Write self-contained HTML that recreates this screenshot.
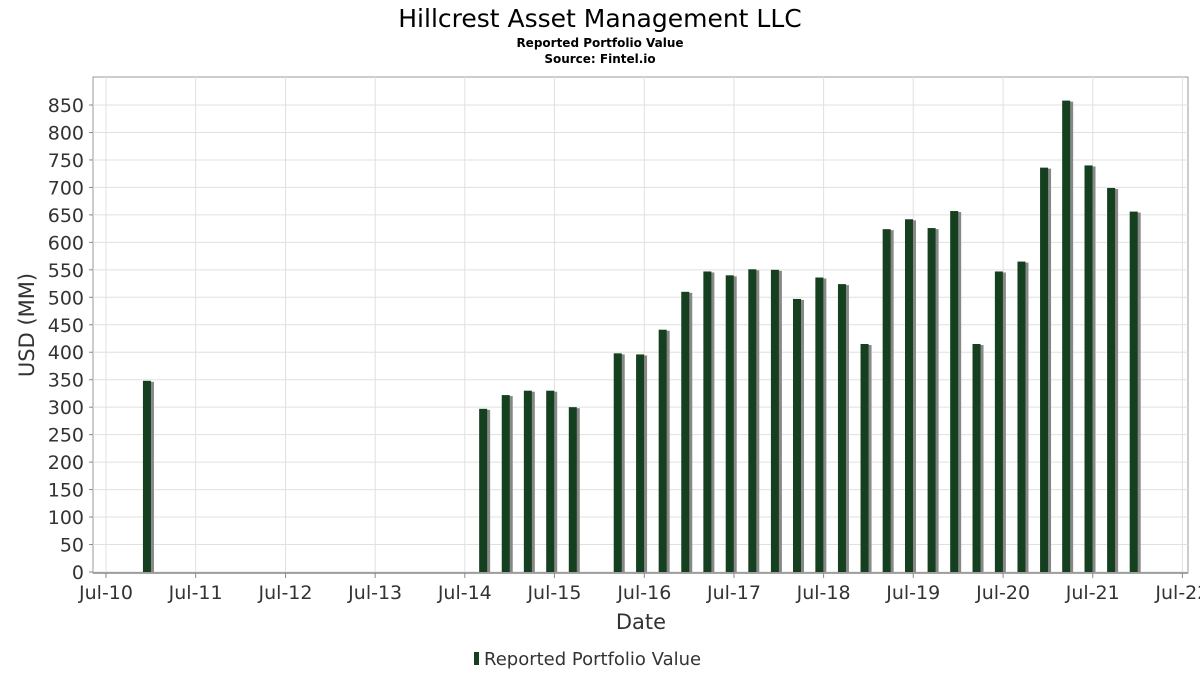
<!DOCTYPE html>
<html><head><meta charset="utf-8"><style>
body{margin:0;background:#fff;font-family:"DejaVu Sans","Liberation Sans",sans-serif;}
</style></head><body>
<svg id="c" width="1200" height="675" xmlns="http://www.w3.org/2000/svg">
<text x="600" y="27" text-anchor="middle" font-size="25" fill="#000">Hillcrest Asset Management LLC</text>
<text x="600" y="47" text-anchor="middle" font-size="12" font-weight="bold">Reported Portfolio Value</text>
<text x="600" y="63" text-anchor="middle" font-size="12" font-weight="bold">Source: Fintel.io</text>
<rect x="93" y="77" width="1095" height="496" fill="#fff" stroke="#999"/>
<g id="grid"></g><g id="bars"></g><g id="axes"></g>
<text x="641" y="629" text-anchor="middle" font-size="21" fill="#333">Date</text>
<text transform="translate(34,325) rotate(-90)" text-anchor="middle" font-size="21" fill="#333">USD (MM)</text>
<g>
<rect x="474" y="652" width="5" height="13" fill="#15401f"/>
<text x="484" y="665" font-size="18" fill="#333">Reported Portfolio Value</text>
</g>
</svg>
<script>
const dates=["2010-12-31","2014-09-30","2014-12-31","2015-03-31","2015-06-30","2015-09-30","2016-03-31","2016-06-30","2016-09-30","2016-12-31","2017-03-31","2017-06-30","2017-09-30","2017-12-31","2018-03-31","2018-06-30","2018-09-30","2018-12-31","2019-03-31","2019-06-30","2019-09-30","2019-12-31","2020-03-31","2020-06-30","2020-09-30","2020-12-31","2021-03-31","2021-06-30","2021-09-30","2021-12-31"];
const values=[348,297,322,330,330,300,398,396,441,510,547,540,551,550,497,536,524,415,624,642,626,657,415,547,565,736,858,740,699,656];
const yTicks=[0,50,100,150,200,250,300,350,400,450,500,550,600,650,700,750,800,850];
const xTickLabels=["Jul-10","Jul-11","Jul-12","Jul-13","Jul-14","Jul-15","Jul-16","Jul-17","Jul-18","Jul-19","Jul-20","Jul-21","Jul-22"];
const NS="http://www.w3.org/2000/svg";
const t0=Date.UTC(2010,6,1), yr=365.25*864e5;
function x(d){return 106+(d-t0)/yr*89.7;}
function y(v){return 572-v*(467/850);}
function mk(tag,attrs,parent){const e=document.createElementNS(NS,tag);for(const k in attrs)e.setAttribute(k,attrs[k]);document.getElementById(parent).appendChild(e);return e;}
yTicks.forEach(v=>{
 const l=mk('line',{x1:93,x2:1188,y1:y(v),y2:y(v),stroke:'#e0e0e0'},'grid');
 
 
 const t=mk('text',{x:84,y:y(v)+7,'text-anchor':'end','font-size':19,fill:'#333'},'axes');
 t.textContent=v;
 
 
 mk('line',{x1:89,x2:93,y1:y(v),y2:y(v),stroke:'#888'},'axes');
});
xTickLabels.forEach((s,i)=>{
 const xx=x(Date.UTC(2010+i,6,1));
 const l=mk('line',{x1:xx,x2:xx,y1:77,y2:573,stroke:'#e0e0e0'},'grid');
 
 
 mk('line',{x1:xx,x2:xx,y1:573,y2:578,stroke:'#888'},'axes');
 const t=mk('text',{x:xx,y:599,'text-anchor':'middle','font-size':19,fill:'#333'},'axes');
 t.textContent=s;
 
 
});
const ax=mk('line',{x1:93,x2:1188,y1:573,y2:573,stroke:'#888','stroke-width':1.5},'axes');


dates.forEach((d,i)=>{
 const p=d.split('-');const cx=x(Date.UTC(+p[0],+p[1]-1,+p[2]))-4;
 const top=y(values[i]);
 const s=mk('rect',{x:cx-1,y:top+1,width:8,height:572-top-1,fill:'#888'},'bars');
 
 
 const b=mk('rect',{x:cx-4,y:top,width:8,height:572-top,fill:'#15401f'},'bars');
 
 
});
</script>
</body></html>
